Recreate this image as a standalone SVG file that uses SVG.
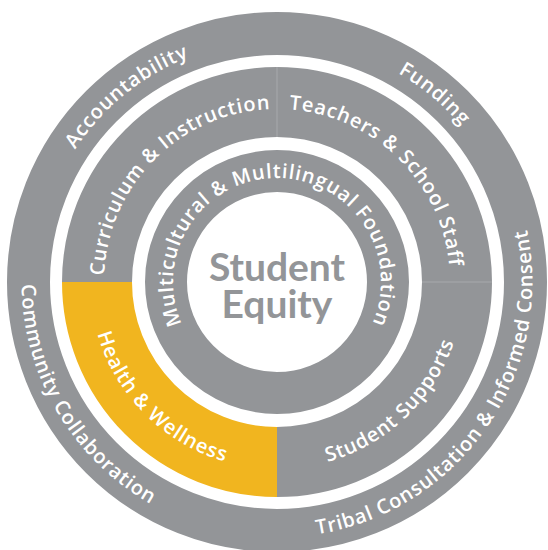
<svg xmlns="http://www.w3.org/2000/svg" width="548" height="550" viewBox="0 0 548 550">
<style>
.ring{fill:none;stroke:#939598}
.lbl{font-family:"Open Sans","Liberation Sans",sans-serif;font-weight:600;font-size:20px;letter-spacing:0.8px;fill:#ffffff}
.ctr{font-family:Lato,"Open Sans","Liberation Sans",sans-serif;font-weight:700;font-size:39px;fill:#939598;text-anchor:middle}
.div{stroke:#a7a9ac;stroke-width:1}
</style>
<defs>
<path id="pAcc" d="M38.5,319.8 A241.5,241.5 0 0 1 363.5,56.5"/>
<path id="pFun" d="M194.4,55.1 A241.5,241.5 0 0 1 514.8,323.9"/>
<path id="pTri" d="M171.1,514.5 A255.5,255.5 0 0 0 456.1,99.8"/>
<path id="pCom" d="M79.9,119.5 A255.5,255.5 0 0 0 323.6,533.2"/>
<path id="pCur" d="M109.9,326.8 A173,173 0 0 1 321.8,114.9"/>
<path id="pTea" d="M230.8,115.3 A173,173 0 0 1 444.5,325.3"/>
<path id="pSup" d="M223.9,461.3 A187,187 0 0 0 458.8,238.4"/>
<path id="pHea" d="M96.4,233.6 A187,187 0 0 0 325.4,462.6"/>
<path id="pMul" d="M225,372.1 A104,104 0 1 1 329,372.1"/>
</defs>
<rect width="548" height="550" fill="#ffffff"/>

<g id="outer-ring">
<circle class="ring" cx="277" cy="282" r="248.5" stroke-width="43"/>
</g>
<g id="accountability"><text class="lbl"><textPath href="#pAcc" startOffset="50%" text-anchor="middle">Accountability</textPath></text></g>
<g id="funding"><text class="lbl"><textPath href="#pFun" startOffset="50%" text-anchor="middle">Funding</textPath></text></g>
<g id="tribal-consultation"><text class="lbl"><textPath href="#pTri" startOffset="50%" text-anchor="middle">Tribal Consultation &amp; Informed Consent</textPath></text></g>
<g id="community-collaboration"><text class="lbl"><textPath href="#pCom" startOffset="50%" text-anchor="middle">Community Collaboration</textPath></text></g>

<g id="curriculum-instruction">
<path d="M97,282 A180,180 0 0 1 277,102" fill="none" stroke="#939598" stroke-width="70"/>
<text class="lbl"><textPath href="#pCur" startOffset="50%" text-anchor="middle">Curriculum &amp; Instruction</textPath></text>
</g>
<g id="teachers-staff">
<path d="M277,102 A180,180 0 0 1 457,282" fill="none" stroke="#939598" stroke-width="70"/>
<text class="lbl"><textPath href="#pTea" startOffset="50%" text-anchor="middle">Teachers &amp; School Staff</textPath></text>
</g>
<g id="student-supports">
<path d="M457,282 A180,180 0 0 1 277,462" fill="none" stroke="#939598" stroke-width="70"/>
<text class="lbl"><textPath href="#pSup" startOffset="50%" text-anchor="middle">Student Supports</textPath></text>
</g>
<g id="health-wellness">
<path d="M277,462 A180,180 0 0 1 97,282" fill="none" stroke="#F1B51F" stroke-width="70"/>
<text class="lbl"><textPath href="#pHea" startOffset="50%" text-anchor="middle">Health &amp; Wellness</textPath></text>
</g>
<g id="dividers">
<line class="div" x1="277" y1="67" x2="277" y2="137"/>
<line class="div" x1="422" y1="282" x2="492" y2="282"/>
</g>

<g id="multicultural-foundation">
<circle class="ring" cx="277" cy="282" r="111" stroke-width="42"/>
<text class="lbl"><textPath href="#pMul" startOffset="50%" text-anchor="middle">Multicultural &amp; Multilingual Foundation</textPath></text>
</g>

<g id="student-equity">
<text class="ctr" x="277" y="281">Student</text>
<text class="ctr" x="277" y="318">Equity</text>
</g>
</svg>
